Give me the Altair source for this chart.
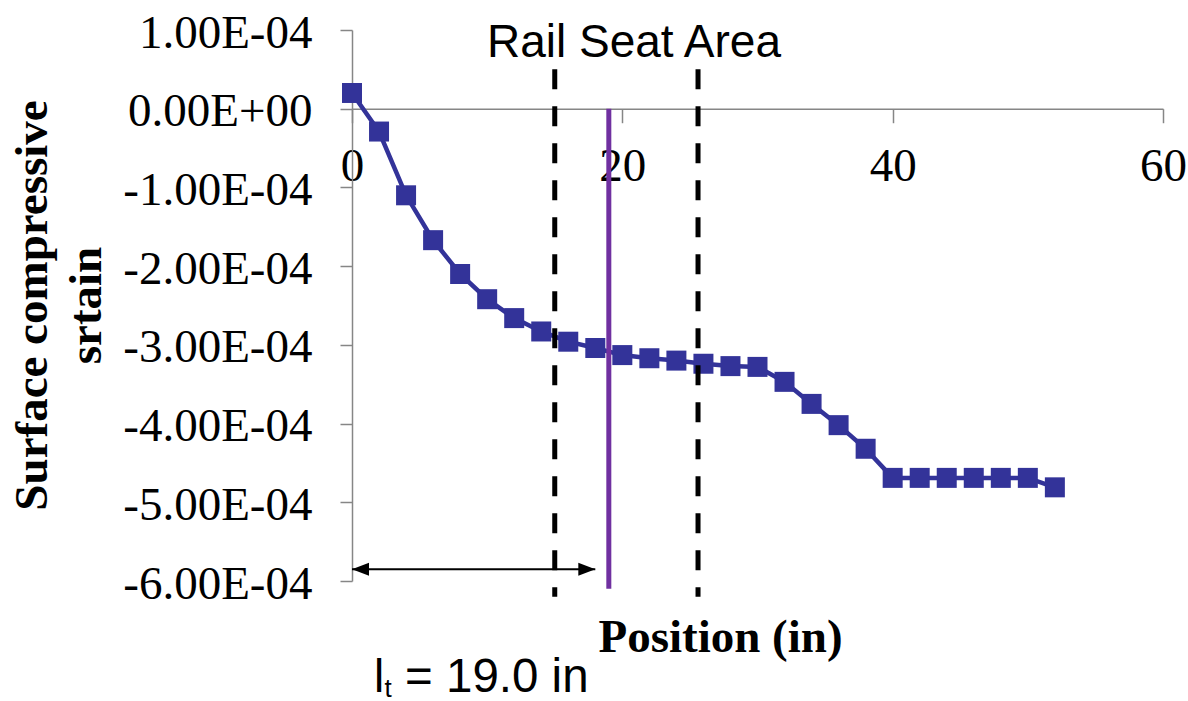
import altair as alt
import pandas as pd

# ---- data ----
POSITION_IN = [0, 2, 4, 6, 8, 10, 12, 14, 16, 18, 20, 22, 24, 26, 28, 30,
               32, 34, 36, 38, 40, 42, 44, 46, 48, 50, 52]
STRAIN = [2.0e-5, -2.9e-5, -1.10e-4, -1.67e-4, -2.10e-4, -2.42e-4, -2.66e-4,
          -2.83e-4, -2.96e-4, -3.04e-4, -3.13e-4, -3.17e-4, -3.20e-4, -3.24e-4,
          -3.27e-4, -3.28e-4, -3.47e-4, -3.75e-4, -4.02e-4, -4.32e-4, -4.69e-4,
          -4.69e-4, -4.69e-4, -4.69e-4, -4.69e-4, -4.69e-4, -4.81e-4]

X_TICKS = [0, 20, 40, 60]
Y_TICKS = [-6e-4, -5e-4, -4e-4, -3e-4, -2e-4, -1e-4, 0.0, 1e-4]
Y_TICK_LABELS = ["-6.00E-04", "-5.00E-04", "-4.00E-04", "-3.00E-04",
                 "-2.00E-04", "-1.00E-04", "0.00E+00", "1.00E-04"]

RAIL_SEAT_X = [15.0, 25.6]          # dashed boundaries of rail seat area
RAIL_SEAT_Y = [0.5e-4, -6.2e-4]     # vertical extent of the dashed lines
LT_X = 19.0                         # transfer length line
LT_Y = [0.0, -6.1e-4]
ARROW_X = [0.0, 18.0]
ARROW_Y = -5.85e-4

X_DOMAIN = [0, 60]
Y_DOMAIN = [-6e-4, 1e-4]

W, H = 811, 551
SERIES = "#333399"
AXIS_GRAY = "#868686"
SERIF = "Liberation Serif"
SANS = "Liberation Sans"

df = pd.DataFrame({"pos": POSITION_IN, "strain": STRAIN})

x_scale = alt.Scale(domain=X_DOMAIN, nice=False, zero=False)
y_scale = alt.Scale(domain=Y_DOMAIN, nice=False, zero=False)

x_offset = -H * (0 - Y_DOMAIN[0]) / (Y_DOMAIN[1] - Y_DOMAIN[0])

label_js = "[" + ",".join("'%s'" % s for s in Y_TICK_LABELS) + "]"

x_axis = alt.Axis(
    values=X_TICKS, grid=False, offset=x_offset,
    domainColor=AXIS_GRAY, domainWidth=1.5,
    tickColor=AXIS_GRAY, tickWidth=1.5, tickSize=14,
    labelFont=SERIF, labelFontSize=47, labelColor="black",
    labelPadding=21, labelFlush=False, labelOverlap=False, labelLimit=400,
    title="Position (in)", titleFont=SERIF, titleFontSize=47,
    titleFontWeight="bold", titleColor="black",
    titleX=368, titleY=543, titleAlign="center", titleBaseline="alphabetic",
)
y_axis = alt.Axis(
    values=Y_TICKS, grid=False,
    labelExpr=label_js + "[round(datum.value*10000)+6]",
    domainColor=AXIS_GRAY, domainWidth=1.5,
    tickColor=AXIS_GRAY, tickWidth=1.5, tickSize=12,
    labelFont=SERIF, labelFontSize=47, labelColor="black",
    labelPadding=28, labelOffset=3, labelFlush=False, labelOverlap=False,
    labelLimit=400,
    title=["Surface compressive", "srtain"],
    titleFont=SERIF, titleFontSize=47, titleFontWeight="bold", titleColor="black",
    titleAngle=270, titleAlign="center", titleBaseline="alphabetic",
    titleX=-306, titleY=275, titleLineHeight=54, titleLimit=800,
)

base = alt.Chart(df)
line = base.mark_line(color=SERIES, strokeWidth=4.5).encode(
    x=alt.X("pos:Q", scale=x_scale, axis=x_axis),
    y=alt.Y("strain:Q", scale=y_scale, axis=y_axis),
)
pts = base.mark_square(color=SERIES, size=400, opacity=1).encode(
    x=alt.X("pos:Q", scale=x_scale), y=alt.Y("strain:Q", scale=y_scale)
)

dash_df = pd.DataFrame({"x": RAIL_SEAT_X, "y1": [RAIL_SEAT_Y[0]] * 2,
                        "y2": [RAIL_SEAT_Y[1]] * 2})
dashed = alt.Chart(dash_df).mark_rule(color="black", strokeWidth=5,
                                      strokeDash=[20, 17]).encode(
    x=alt.X("x:Q", scale=x_scale), y=alt.Y("y1:Q", scale=y_scale), y2="y2:Q"
)

lt_df = pd.DataFrame({"x": [LT_X], "y1": [LT_Y[0]], "y2": [LT_Y[1]]})
lt_rule = alt.Chart(lt_df).mark_rule(color="#7030A0", strokeWidth=5).encode(
    x=alt.X("x:Q", scale=x_scale), y=alt.Y("y1:Q", scale=y_scale), y2="y2:Q"
)

arr_df = pd.DataFrame({"x1": [ARROW_X[0]], "x2": [ARROW_X[1]], "y": [ARROW_Y]})
arrow = alt.Chart(arr_df).mark_rule(color="black", strokeWidth=2).encode(
    x=alt.X("x1:Q", scale=x_scale), x2="x2:Q", y=alt.Y("y:Q", scale=y_scale)
)
head_l = alt.Chart(arr_df).mark_point(
    shape="M0,0 L1,-0.38 L1,0.38 Z", filled=True, color="black",
    opacity=1, size=1156, strokeWidth=0
).encode(x=alt.X("x1:Q", scale=x_scale), y=alt.Y("y:Q", scale=y_scale))
head_r = alt.Chart(arr_df).mark_point(
    shape="M0,0 L-1,-0.38 L-1,0.38 Z", filled=True, color="black",
    opacity=1, size=1156, strokeWidth=0
).encode(x=alt.X("x2:Q", scale=x_scale), y=alt.Y("y:Q", scale=y_scale))

rail_df = pd.DataFrame({"x": [20.86], "y": [0.66e-4], "t": ["Rail Seat Area"]})
rail_text = alt.Chart(rail_df).mark_text(
    font=SANS, fontSize=46, color="black", align="center", baseline="alphabetic"
).encode(x=alt.X("x:Q", scale=x_scale), y=alt.Y("y:Q", scale=y_scale), text="t:N")

lt_text_df = pd.DataFrame({"x": [1.63], "y": [-7.41e-4]})
lt_l = alt.Chart(lt_text_df).mark_text(
    font=SANS, fontSize=46, color="black", align="left", baseline="alphabetic",
    text="l"
).encode(x=alt.X("x:Q", scale=x_scale), y=alt.Y("y:Q", scale=y_scale))
lt_t = alt.Chart(lt_text_df).mark_text(
    font=SANS, fontSize=26, color="black", align="left", baseline="alphabetic",
    text="t", dx=10.5, dy=5
).encode(x=alt.X("x:Q", scale=x_scale), y=alt.Y("y:Q", scale=y_scale))
lt_rest = alt.Chart(lt_text_df).mark_text(
    font=SANS, fontSize=47.5, color="black", align="left", baseline="alphabetic",
    text="= 19.0 in", dx=31
).encode(x=alt.X("x:Q", scale=x_scale), y=alt.Y("y:Q", scale=y_scale))

chart = alt.layer(
    line, pts, dashed, lt_rule, arrow, head_l, head_r,
    rail_text, lt_l, lt_t, lt_rest
).properties(
    width=W, height=H,
    background="white",
    autosize=alt.AutoSizeParams(type="none"),
    padding={"left": 352, "top": 30, "right": 25, "bottom": 120},
).configure_view(strokeWidth=0, strokeOpacity=0)

chart.save("out.html", embed_options={"renderer": "svg", "actions": False})
